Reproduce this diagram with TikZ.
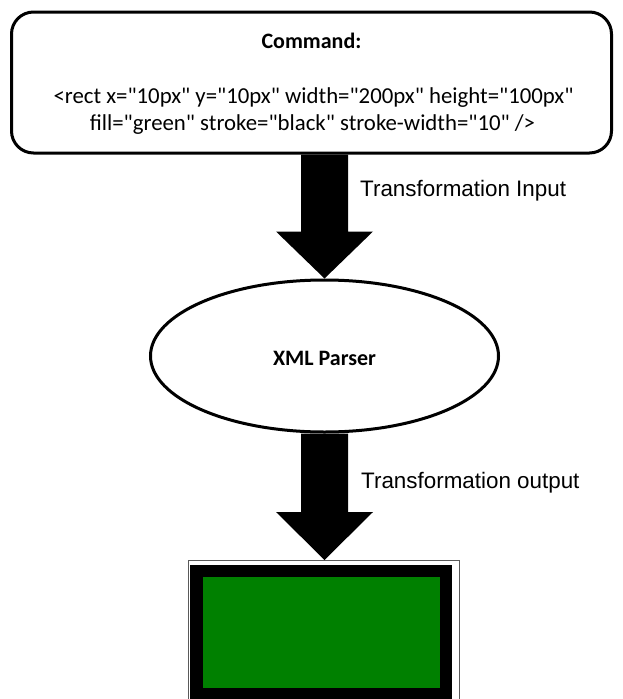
\documentclass[tikz,border=0pt]{standalone}
\usepackage{fontspec}
\newfontfamily\calib{Carlito}
\newfontfamily\arialf{Liberation Sans}
\usetikzlibrary{shapes.geometric,calc}
\definecolor{svggreen}{RGB}{0,128,0}
\definecolor{framegray}{RGB}{90,90,90}
\tikzset{
  cmdbox/.style={draw, line width=3pt, rounded corners=22pt, minimum width=600pt, minimum height=141pt, inner sep=0pt},
  parserbox/.style={draw, ellipse, line width=3pt, minimum width=348pt, minimum height=152pt, inner sep=0pt},
  calibtext/.style={font=\calib\fontsize{22.8}{26}\selectfont, anchor=base, inner sep=0pt},
  calibbold/.style={font=\calib\bfseries\fontsize{22}{26}\selectfont, anchor=base, inner sep=0pt},
  arialtext/.style={font=\arialf\fontsize{22.4}{26}\selectfont, anchor=base west, inner sep=0pt},
  framebox/.style={draw=framegray, line width=1pt, fill=white, minimum width=270.5pt, minimum height=160pt, inner sep=0pt},
  svgrect/.style={draw=black, line width=12.5pt, fill=svggreen, minimum width=249.5pt, minimum height=123pt, inner sep=0pt},
  blockarrow/.style={fill=black}
}
\begin{document}
\begin{tikzpicture}[x=1pt,y=-1pt]
\useasboundingbox (0,0) rectangle (623,699);
% command box
\node[cmdbox] (cmd) at (311.5,82.5) {};
\node[calibbold] (cmdtitle) at (311.5,48) {Command:};
\node[calibtext] (cmdline1) at (313.5,103) {<rect x="10px" y="10px" width="200px" height="100px"};
\node[calibtext] (cmdline2) at (312.5,130) {fill="green" stroke="black" stroke-width="10" />};
% parser
\node[parserbox] (parser) at (324.5,356) {};
\node[calibbold] (parsertext) at (324.5,365) {XML Parser};
% output frame
\node[framebox] (out) at (323.75,640.5) {};
\node[svgrect] (svg) at (321.25,632.5) {};
% arrows
\fill[blockarrow] let \p1=(parser.north), \p2=(cmd.south) in
  (\x1-23.5pt,\y2) -- (\x1+23.5pt,\y2) -- (\x1+23.5pt,\y1+47pt) -- (\x1+48.5pt,\y1+47pt)
  -- (\x1,\y1) -- (\x1-48.5pt,\y1+47pt) -- (\x1-23.5pt,\y1+47pt) -- cycle;
\fill[blockarrow] let \p1=(out.north -| parser.south), \p2=(parser.south) in
  (\x1-23.5pt,\y2) -- (\x1+23.5pt,\y2) -- (\x1+23.5pt,\y1+48pt) -- (\x1+48.5pt,\y1+48pt)
  -- (\x1,\y1) -- (\x1-48.5pt,\y1+48pt) -- (\x1-23.5pt,\y1+48pt) -- cycle;
% labels
\node[arialtext] (lblin) at (360,196) {Transformation Input};
\node[arialtext] (lblout) at (361,488) {Transformation output};
\end{tikzpicture}
\end{document}
